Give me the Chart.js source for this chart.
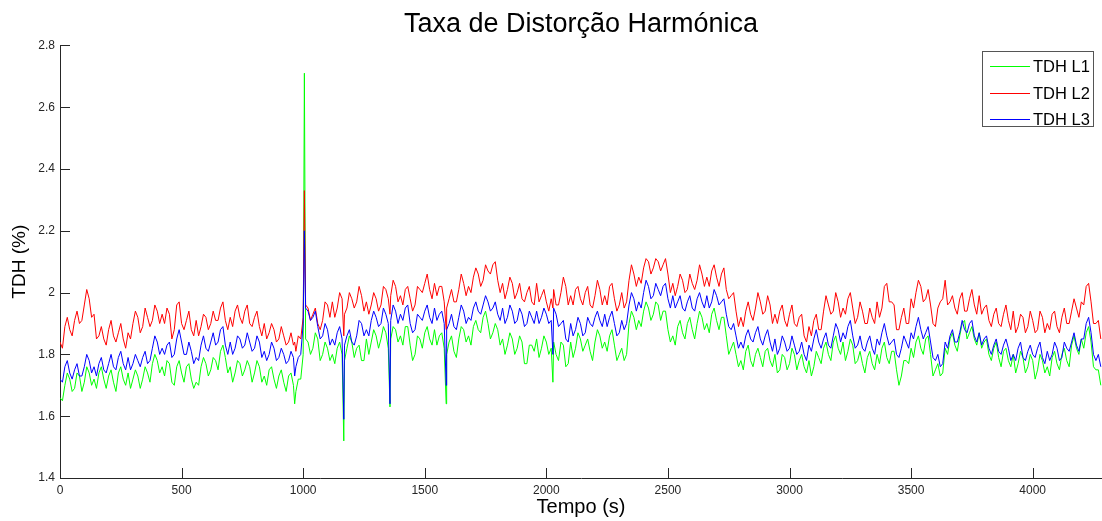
<!DOCTYPE html>
<html lang="pt">
<head>
<meta charset="utf-8">
<title>Taxa de Distorção Harmónica</title>
<script src="https://cdn.jsdelivr.net/npm/chart.js@4.4.1/dist/chart.umd.min.js"></script>
<style>
  html, body { margin: 0; padding: 0; background: #fff; }
  #wrap { width: 1102px; height: 521px; }
</style>
</head>
<body>
<div id="wrap"><canvas id="tdhChart" width="1102" height="521"></canvas></div>
<script>
// Amostras a cada 10 s (tempo em segundos)
const tempo = [
  0, 10, 20, 30, 40, 50, 60, 70, 80, 90, 100, 110, 120, 130, 140, 150, 160, 170, 180, 190,
  200, 210, 220, 230, 240, 250, 260, 270, 280, 290, 300, 310, 320, 330, 340, 350, 360, 370, 380, 390,
  400, 410, 420, 430, 440, 450, 460, 470, 480, 490, 500, 510, 520, 530, 540, 550, 560, 570, 580, 590,
  600, 610, 620, 630, 640, 650, 660, 670, 680, 690, 700, 710, 720, 730, 740, 750, 760, 770, 780, 790,
  800, 810, 820, 830, 840, 850, 860, 870, 880, 890, 900, 910, 920, 930, 940, 950, 960, 970, 980, 990,
  1000, 1010, 1020, 1030, 1040, 1050, 1060, 1070, 1080, 1090, 1100, 1110, 1120, 1130, 1140, 1150, 1160, 1170, 1180, 1190,
  1200, 1210, 1220, 1230, 1240, 1250, 1260, 1270, 1280, 1290, 1300, 1310, 1320, 1330, 1340, 1350, 1360, 1370, 1380, 1390,
  1400, 1410, 1420, 1430, 1440, 1450, 1460, 1470, 1480, 1490, 1500, 1510, 1520, 1530, 1540, 1550, 1560, 1570, 1580, 1590,
  1600, 1610, 1620, 1630, 1640, 1650, 1660, 1670, 1680, 1690, 1700, 1710, 1720, 1730, 1740, 1750, 1760, 1770, 1780, 1790,
  1800, 1810, 1820, 1830, 1840, 1850, 1860, 1870, 1880, 1890, 1900, 1910, 1920, 1930, 1940, 1950, 1960, 1970, 1980, 1990,
  2000, 2010, 2020, 2030, 2040, 2050, 2060, 2070, 2080, 2090, 2100, 2110, 2120, 2130, 2140, 2150, 2160, 2170, 2180, 2190,
  2200, 2210, 2220, 2230, 2240, 2250, 2260, 2270, 2280, 2290, 2300, 2310, 2320, 2330, 2340, 2350, 2360, 2370, 2380, 2390,
  2400, 2410, 2420, 2430, 2440, 2450, 2460, 2470, 2480, 2490, 2500, 2510, 2520, 2530, 2540, 2550, 2560, 2570, 2580, 2590,
  2600, 2610, 2620, 2630, 2640, 2650, 2660, 2670, 2680, 2690, 2700, 2710, 2720, 2730, 2740, 2750, 2760, 2770, 2780, 2790,
  2800, 2810, 2820, 2830, 2840, 2850, 2860, 2870, 2880, 2890, 2900, 2910, 2920, 2930, 2940, 2950, 2960, 2970, 2980, 2990,
  3000, 3010, 3020, 3030, 3040, 3050, 3060, 3070, 3080, 3090, 3100, 3110, 3120, 3130, 3140, 3150, 3160, 3170, 3180, 3190,
  3200, 3210, 3220, 3230, 3240, 3250, 3260, 3270, 3280, 3290, 3300, 3310, 3320, 3330, 3340, 3350, 3360, 3370, 3380, 3390,
  3400, 3410, 3420, 3430, 3440, 3450, 3460, 3470, 3480, 3490, 3500, 3510, 3520, 3530, 3540, 3550, 3560, 3570, 3580, 3590,
  3600, 3610, 3620, 3630, 3640, 3650, 3660, 3670, 3680, 3690, 3700, 3710, 3720, 3730, 3740, 3750, 3760, 3770, 3780, 3790,
  3800, 3810, 3820, 3830, 3840, 3850, 3860, 3870, 3880, 3890, 3900, 3910, 3920, 3930, 3940, 3950, 3960, 3970, 3980, 3990,
  4000, 4010, 4020, 4030, 4040, 4050, 4060, 4070, 4080, 4090, 4100, 4110, 4120, 4130, 4140, 4150, 4160, 4170, 4180, 4190,
  4200, 4210, 4220, 4230, 4240, 4250, 4260, 4270, 4280
];

// TDH (%) de cada fase
const tdhL1 = [
  1.66, 1.65, 1.70, 1.74, 1.72, 1.68, 1.69, 1.74, 1.73, 1.68, 1.71, 1.76, 1.74, 1.70, 1.72, 1.69, 1.74, 1.76, 1.72, 1.69,
  1.73, 1.75, 1.71, 1.68, 1.74, 1.76, 1.72, 1.70, 1.74, 1.69, 1.72, 1.75, 1.73, 1.69, 1.72, 1.76, 1.74, 1.71, 1.77, 1.80,
  1.78, 1.74, 1.76, 1.73, 1.78, 1.77, 1.71, 1.70, 1.76, 1.78, 1.74, 1.71, 1.76, 1.77, 1.72, 1.69, 1.71, 1.70, 1.76, 1.79,
  1.77, 1.73, 1.75, 1.79, 1.78, 1.75, 1.81, 1.83, 1.79, 1.74, 1.76, 1.71, 1.74, 1.78, 1.77, 1.73, 1.75, 1.78, 1.76, 1.71,
  1.74, 1.78, 1.76, 1.71, 1.73, 1.70, 1.75, 1.76, 1.72, 1.69, 1.73, 1.75, 1.71, 1.68, 1.73, 1.74, 1.70, 1.68, 1.72, 1.72,
  1.80, 1.85, 1.84, 1.80, 1.82, 1.87, 1.85, 1.78, 1.80, 1.84, 1.82, 1.78, 1.80, 1.77, 1.82, 1.84, 1.80, 1.78, 1.82, 1.86,
  1.84, 1.79, 1.82, 1.83, 1.78, 1.78, 1.85, 1.80, 1.84, 1.88, 1.86, 1.82, 1.85, 1.89, 1.87, 1.82, 1.85, 1.89, 1.88, 1.84,
  1.86, 1.83, 1.89, 1.89, 1.83, 1.78, 1.80, 1.86, 1.85, 1.82, 1.87, 1.89, 1.85, 1.83, 1.88, 1.83, 1.86, 1.87, 1.82, 1.80,
  1.84, 1.86, 1.81, 1.79, 1.85, 1.89, 1.88, 1.84, 1.86, 1.83, 1.89, 1.91, 1.88, 1.87, 1.92, 1.94, 1.90, 1.85, 1.87, 1.90,
  1.88, 1.83, 1.85, 1.80, 1.83, 1.87, 1.85, 1.80, 1.82, 1.86, 1.84, 1.77, 1.77, 1.83, 1.83, 1.81, 1.85, 1.79, 1.82, 1.86,
  1.84, 1.80, 1.82, 1.84, 1.80, 1.78, 1.84, 1.83, 1.76, 1.77, 1.84, 1.79, 1.82, 1.87, 1.85, 1.81, 1.83, 1.85, 1.81, 1.78,
  1.84, 1.88, 1.86, 1.82, 1.84, 1.81, 1.86, 1.88, 1.83, 1.78, 1.80, 1.82, 1.78, 1.80, 1.90, 1.94, 1.92, 1.88, 1.91, 1.89,
  1.94, 1.97, 1.95, 1.91, 1.93, 1.97, 1.96, 1.91, 1.94, 1.94, 1.88, 1.84, 1.86, 1.83, 1.89, 1.91, 1.87, 1.85, 1.90, 1.92,
  1.88, 1.85, 1.90, 1.94, 1.92, 1.88, 1.90, 1.87, 1.93, 1.95, 1.91, 1.88, 1.92, 1.92, 1.86, 1.80, 1.82, 1.84, 1.80, 1.76,
  1.78, 1.75, 1.81, 1.83, 1.78, 1.76, 1.80, 1.82, 1.79, 1.76, 1.81, 1.82, 1.78, 1.76, 1.80, 1.74, 1.75, 1.80, 1.79, 1.75,
  1.77, 1.82, 1.80, 1.75, 1.78, 1.80, 1.76, 1.74, 1.78, 1.73, 1.76, 1.81, 1.79, 1.77, 1.82, 1.84, 1.80, 1.78, 1.84, 1.86,
  1.82, 1.80, 1.84, 1.78, 1.81, 1.85, 1.83, 1.77, 1.78, 1.81, 1.77, 1.74, 1.79, 1.81, 1.77, 1.75, 1.80, 1.77, 1.82, 1.84,
  1.79, 1.77, 1.81, 1.81, 1.75, 1.70, 1.73, 1.78, 1.78, 1.77, 1.82, 1.79, 1.84, 1.86, 1.82, 1.80, 1.85, 1.86, 1.80, 1.73,
  1.75, 1.77, 1.73, 1.74, 1.82, 1.80, 1.85, 1.87, 1.83, 1.81, 1.86, 1.90, 1.91, 1.85, 1.87, 1.89, 1.85, 1.83, 1.87, 1.82,
  1.84, 1.85, 1.80, 1.78, 1.82, 1.84, 1.79, 1.76, 1.81, 1.82, 1.78, 1.76, 1.80, 1.74, 1.77, 1.81, 1.79, 1.74, 1.76, 1.80,
  1.78, 1.72, 1.75, 1.80, 1.78, 1.74, 1.76, 1.73, 1.79, 1.81, 1.77, 1.75, 1.80, 1.82, 1.78, 1.76, 1.83, 1.86, 1.82, 1.80,
  1.85, 1.82, 1.87, 1.89, 1.84, 1.76, 1.75, 1.75, 1.70
];

const tdhL2 = [
  1.84, 1.82, 1.89, 1.92, 1.88, 1.86, 1.91, 1.94, 1.90, 1.91, 1.96, 2.01, 1.98, 1.92, 1.93, 1.85, 1.86, 1.89, 1.85, 1.83,
  1.88, 1.91, 1.86, 1.84, 1.87, 1.90, 1.85, 1.82, 1.87, 1.85, 1.90, 1.94, 1.92, 1.87, 1.89, 1.95, 1.92, 1.89, 1.91, 1.96,
  1.94, 1.90, 1.93, 1.90, 1.95, 1.93, 1.85, 1.88, 1.96, 1.97, 1.90, 1.88, 1.91, 1.94, 1.88, 1.86, 1.91, 1.86, 1.89, 1.93,
  1.92, 1.88, 1.90, 1.94, 1.91, 1.91, 1.95, 1.97, 1.91, 1.88, 1.92, 1.89, 1.94, 1.96, 1.92, 1.90, 1.94, 1.96, 1.90, 1.89,
  1.92, 1.94, 1.89, 1.86, 1.90, 1.85, 1.87, 1.90, 1.88, 1.84, 1.85, 1.89, 1.86, 1.83, 1.84, 1.87, 1.83, 1.81, 1.86, 1.85,
  1.92, 1.96, 1.95, 1.91, 1.93, 1.95, 1.90, 1.88, 1.91, 1.97, 1.96, 1.92, 1.97, 1.92, 1.95, 2.00, 1.98, 1.93, 1.95, 2.00,
  1.98, 1.95, 1.97, 2.02, 1.99, 1.94, 1.97, 1.93, 1.96, 2.00, 1.98, 1.94, 1.96, 2.02, 2.01, 1.98, 1.99, 2.04, 2.02, 1.97,
  1.99, 1.96, 2.01, 2.02, 1.98, 1.94, 1.96, 2.02, 2.01, 2.00, 2.03, 2.06, 2.01, 1.98, 2.03, 1.99, 2.02, 2.02, 1.97, 1.95,
  1.98, 2.01, 1.97, 1.97, 2.01, 2.06, 2.03, 1.99, 2.02, 2.00, 2.05, 2.08, 2.06, 2.02, 2.04, 2.09, 2.07, 2.06, 2.09, 2.10,
  2.04, 2.00, 2.03, 1.98, 2.01, 2.05, 2.03, 1.98, 2.00, 2.03, 1.98, 1.97, 2.00, 2.02, 1.97, 1.96, 2.03, 1.97, 1.99, 2.01,
  1.97, 1.94, 1.98, 2.01, 1.96, 1.96, 2.00, 2.05, 2.02, 1.96, 1.99, 1.96, 2.01, 2.02, 1.98, 1.96, 2.00, 2.02, 1.96, 1.95,
  1.99, 2.04, 2.01, 1.96, 1.99, 1.96, 2.02, 2.03, 1.98, 1.94, 1.96, 2.00, 1.95, 1.97, 2.04, 2.09, 2.06, 2.02, 2.05, 2.03,
  2.08, 2.11, 2.10, 2.06, 2.08, 2.11, 2.10, 2.07, 2.09, 2.11, 2.06, 2.00, 2.03, 1.99, 2.02, 2.06, 2.04, 2.00, 2.01, 2.06,
  2.03, 2.01, 2.04, 2.09, 2.06, 2.02, 2.05, 2.02, 2.07, 2.09, 2.05, 2.02, 2.06, 2.08, 2.01, 1.98, 1.99, 2.00, 1.94, 1.89,
  1.92, 1.89, 1.94, 1.97, 1.93, 1.91, 1.95, 2.00, 1.97, 1.93, 1.94, 1.99, 1.96, 1.90, 1.93, 1.90, 1.94, 1.96, 1.91, 1.89,
  1.93, 1.96, 1.90, 1.89, 1.92, 1.93, 1.86, 1.84, 1.89, 1.86, 1.91, 1.93, 1.88, 1.88, 1.94, 1.99, 1.96, 1.93, 1.94, 2.00,
  1.97, 1.92, 1.95, 1.93, 1.98, 2.00, 1.95, 1.90, 1.92, 1.97, 1.94, 1.90, 1.90, 1.95, 1.92, 1.90, 1.97, 1.92, 1.95, 2.02,
  2.03, 1.97, 1.97, 1.96, 1.88, 1.88, 1.92, 1.95, 1.90, 1.90, 1.98, 1.95, 2.00, 2.04, 2.02, 1.97, 1.98, 2.01, 1.96, 1.90,
  1.89, 1.95, 1.97, 1.98, 2.04, 1.96, 1.97, 1.99, 1.95, 1.93, 1.98, 2.00, 1.94, 1.94, 1.98, 2.01, 1.96, 1.93, 1.99, 1.93,
  1.95, 1.96, 1.91, 1.89, 1.93, 1.95, 1.90, 1.89, 1.93, 1.96, 1.91, 1.88, 1.94, 1.87, 1.89, 1.93, 1.92, 1.87, 1.89, 1.94,
  1.91, 1.87, 1.88, 1.94, 1.92, 1.87, 1.90, 1.88, 1.93, 1.94, 1.89, 1.87, 1.92, 1.95, 1.90, 1.90, 1.94, 1.98, 1.95, 1.92,
  1.97, 1.96, 2.02, 2.03, 1.97, 1.90, 1.90, 1.91, 1.85
];

const tdhL3 = [
  1.72, 1.71, 1.76, 1.78, 1.74, 1.72, 1.75, 1.77, 1.73, 1.73, 1.76, 1.80, 1.78, 1.74, 1.76, 1.73, 1.77, 1.79, 1.75, 1.74,
  1.77, 1.80, 1.76, 1.75, 1.79, 1.81, 1.77, 1.75, 1.79, 1.75, 1.77, 1.80, 1.78, 1.76, 1.79, 1.81, 1.77, 1.78, 1.82, 1.86,
  1.84, 1.80, 1.82, 1.80, 1.83, 1.84, 1.79, 1.80, 1.85, 1.88, 1.84, 1.80, 1.80, 1.84, 1.81, 1.77, 1.79, 1.78, 1.83, 1.86,
  1.82, 1.81, 1.84, 1.87, 1.83, 1.84, 1.88, 1.89, 1.83, 1.80, 1.84, 1.80, 1.82, 1.86, 1.85, 1.82, 1.83, 1.87, 1.84, 1.81,
  1.82, 1.86, 1.84, 1.79, 1.81, 1.78, 1.80, 1.84, 1.82, 1.78, 1.79, 1.82, 1.80, 1.77, 1.78, 1.81, 1.79, 1.76, 1.79, 1.80,
  1.90, 1.95, 1.94, 1.91, 1.92, 1.94, 1.89, 1.85, 1.86, 1.90, 1.88, 1.83, 1.85, 1.83, 1.87, 1.89, 1.85, 1.83, 1.86, 1.88,
  1.84, 1.83, 1.86, 1.91, 1.90, 1.86, 1.88, 1.86, 1.91, 1.94, 1.92, 1.89, 1.90, 1.95, 1.93, 1.90, 1.91, 1.96, 1.94, 1.90,
  1.93, 1.91, 1.95, 1.96, 1.90, 1.87, 1.88, 1.93, 1.92, 1.91, 1.94, 1.96, 1.92, 1.90, 1.95, 1.91, 1.93, 1.94, 1.90, 1.88,
  1.90, 1.93, 1.89, 1.88, 1.92, 1.96, 1.94, 1.90, 1.92, 1.91, 1.95, 1.97, 1.94, 1.93, 1.96, 1.99, 1.97, 1.94, 1.95, 1.97,
  1.93, 1.91, 1.95, 1.90, 1.92, 1.96, 1.94, 1.90, 1.91, 1.95, 1.93, 1.89, 1.90, 1.94, 1.92, 1.90, 1.94, 1.90, 1.92, 1.95,
  1.93, 1.90, 1.91, 1.95, 1.93, 1.89, 1.90, 1.91, 1.85, 1.84, 1.90, 1.86, 1.88, 1.92, 1.90, 1.86, 1.87, 1.92, 1.90, 1.89,
  1.92, 1.94, 1.91, 1.89, 1.93, 1.89, 1.92, 1.94, 1.90, 1.86, 1.87, 1.91, 1.88, 1.90, 1.96, 2.00, 1.98, 1.94, 1.97, 1.95,
  2.00, 2.04, 2.02, 1.98, 1.99, 2.03, 2.01, 1.99, 2.02, 2.03, 1.98, 1.95, 1.99, 1.95, 1.97, 1.99, 1.95, 1.94, 1.97, 1.99,
  1.95, 1.94, 1.98, 2.00, 1.97, 1.95, 1.99, 1.95, 1.97, 2.01, 1.99, 1.96, 1.97, 1.98, 1.93, 1.89, 1.88, 1.90, 1.86, 1.82,
  1.84, 1.82, 1.86, 1.88, 1.85, 1.84, 1.87, 1.89, 1.85, 1.83, 1.86, 1.88, 1.84, 1.81, 1.85, 1.80, 1.82, 1.86, 1.84, 1.81,
  1.82, 1.86, 1.83, 1.80, 1.81, 1.84, 1.80, 1.78, 1.83, 1.81, 1.85, 1.88, 1.84, 1.82, 1.85, 1.87, 1.83, 1.82, 1.86, 1.90,
  1.88, 1.84, 1.87, 1.85, 1.89, 1.91, 1.86, 1.82, 1.83, 1.86, 1.82, 1.81, 1.84, 1.86, 1.82, 1.80, 1.85, 1.83, 1.87, 1.90,
  1.86, 1.83, 1.84, 1.85, 1.80, 1.79, 1.82, 1.86, 1.84, 1.82, 1.87, 1.85, 1.89, 1.92, 1.88, 1.85, 1.87, 1.89, 1.84, 1.79,
  1.78, 1.80, 1.76, 1.77, 1.84, 1.82, 1.86, 1.88, 1.84, 1.84, 1.87, 1.91, 1.88, 1.87, 1.90, 1.91, 1.86, 1.84, 1.87, 1.83,
  1.85, 1.86, 1.82, 1.80, 1.83, 1.85, 1.81, 1.80, 1.83, 1.85, 1.82, 1.78, 1.80, 1.78, 1.82, 1.84, 1.79, 1.78, 1.81, 1.83,
  1.80, 1.79, 1.82, 1.84, 1.79, 1.77, 1.81, 1.78, 1.80, 1.84, 1.82, 1.78, 1.79, 1.84, 1.82, 1.81, 1.84, 1.87, 1.83, 1.81,
  1.85, 1.85, 1.90, 1.92, 1.87, 1.80, 1.78, 1.80, 1.76
];

// Picos e quedas bruscas entre amostras
const picoTempo = [965, 1005, 1167, 1357, 1588, 2027];
const picoL1 = [1.64, 2.71, 1.52, 1.63, 1.64, 1.71];
const picoL2 = [1.84, 2.33, 1.86, 1.93, 1.88, 1.95];
const picoL3 = [1.73, 2.20, 1.59, 1.64, 1.70, 1.80];

const ticksX = [0, 500, 1000, 1500, 2000, 2500, 3000, 3500, 4000];
const ticksY = [1.4, 1.6, 1.8, 2, 2.2, 2.4, 2.6, 2.8];

const FONTE = "'Liberation Sans', Arial, sans-serif";
const COR_EIXO = '#262626';
const CORES = ['#00ff00', '#ff0000', '#0000ff'];

function montarSerie(valores, picos) {
  const pts = tempo.map((t, i) => ({ x: t, y: valores[i] }));
  picoTempo.forEach((t, i) => pts.push({ x: t, y: picos[i] }));
  return pts.sort((a, b) => a.x - b.x);
}

// Marcas dos eixos viradas para dentro, como no MATLAB
const marcasInternas = {
  id: 'marcasInternas',
  afterDatasetsDraw(chart) {
    const { ctx, chartArea, scales } = chart;
    const len = 10;
    ctx.save();
    ctx.strokeStyle = COR_EIXO;
    ctx.lineWidth = 1;
    ctx.beginPath();
    scales.x.ticks.forEach(t => {
      const px = Math.round(scales.x.getPixelForValue(t.value)) + 0.5;
      ctx.moveTo(px, chartArea.bottom);
      ctx.lineTo(px, chartArea.bottom - len);
    });
    scales.y.ticks.forEach(t => {
      const py = Math.round(scales.y.getPixelForValue(t.value)) + 0.5;
      ctx.moveTo(chartArea.left, py);
      ctx.lineTo(chartArea.left + len, py);
    });
    ctx.stroke();
    ctx.restore();
  }
};

// Legenda em caixa no canto superior direito
const legendaCaixa = {
  id: 'legendaCaixa',
  afterDraw(chart) {
    const { ctx } = chart;
    const box = { x: 982.5, y: 51.5, w: 111, h: 75 };
    const linhasY = [66.5, 93.5, 119.5];
    ctx.save();
    ctx.fillStyle = '#fff';
    ctx.fillRect(box.x, box.y, box.w, box.h);
    ctx.strokeStyle = '#555';
    ctx.lineWidth = 1;
    ctx.strokeRect(box.x, box.y, box.w, box.h);
    ctx.font = '16.5px ' + FONTE;
    ctx.textBaseline = 'middle';
    ctx.textAlign = 'left';
    chart.data.datasets.forEach((ds, i) => {
      const y = linhasY[i];
      ctx.beginPath();
      ctx.strokeStyle = CORES[i];
      ctx.lineWidth = 1;
      ctx.moveTo(990, y);
      ctx.lineTo(1030, y);
      ctx.stroke();
      ctx.fillStyle = '#000';
      ctx.fillText(ds.label, 1033, y + 1);
    });
    ctx.restore();
  }
};

const ctx = document.getElementById('tdhChart').getContext('2d');
new Chart(ctx, {
  type: 'line',
  data: {
    datasets: [
      { label: 'TDH L1', data: montarSerie(tdhL1, picoL1), borderColor: CORES[0], order: 3 },
      { label: 'TDH L2', data: montarSerie(tdhL2, picoL2), borderColor: CORES[1], order: 2 },
      { label: 'TDH L3', data: montarSerie(tdhL3, picoL3), borderColor: CORES[2], order: 1 }
    ]
  },
  options: {
    responsive: false,
    animation: false,
    events: [],
    elements: {
      line: { borderWidth: 1, tension: 0 },
      point: { radius: 0 }
    },
    layout: { padding: { left: 0, right: 0, top: 0, bottom: 0 } },
    plugins: {
      legend: { display: false },
      tooltip: { enabled: false },
      title: {
        display: true,
        fullSize: false,
        text: 'Taxa de Distorção Harmónica',
        color: '#000',
        font: { family: FONTE, size: 27, weight: 'normal' },
        padding: { top: 8, bottom: 5 }
      }
    },
    scales: {
      x: {
        type: 'linear',
        min: 0,
        max: 4285,
        afterBuildTicks: s => { s.ticks = ticksX.map(v => ({ value: v })); },
        afterFit: s => { s.height = 43; },
        grid: { display: false, drawTicks: false },
        border: { display: true, color: COR_EIXO, width: 1 },
        ticks: {
          color: COR_EIXO,
          font: { family: FONTE, size: 12 },
          padding: 5,
          maxRotation: 0,
          autoSkip: false,
          callback: v => String(v)
        },
        title: {
          display: true,
          text: 'Tempo (s)',
          color: '#000',
          font: { family: FONTE, size: 20 },
          padding: { top: 0, bottom: 2 }
        }
      },
      y: {
        min: 1.4,
        max: 2.8,
        afterBuildTicks: s => { s.ticks = ticksY.map(v => ({ value: v })); },
        afterFit: s => { s.width = 60; },
        grid: { display: false, drawTicks: false },
        border: { display: true, color: COR_EIXO, width: 1 },
        ticks: {
          color: COR_EIXO,
          font: { family: FONTE, size: 12 },
          padding: 5,
          autoSkip: false,
          callback: v => String(v)
        },
        title: {
          display: true,
          text: 'TDH (%)',
          color: '#000',
          font: { family: FONTE, size: 19 },
          padding: { top: 8, bottom: 0 }
        }
      }
    }
  },
  plugins: [marcasInternas, legendaCaixa]
});
</script>
</body>
</html>
